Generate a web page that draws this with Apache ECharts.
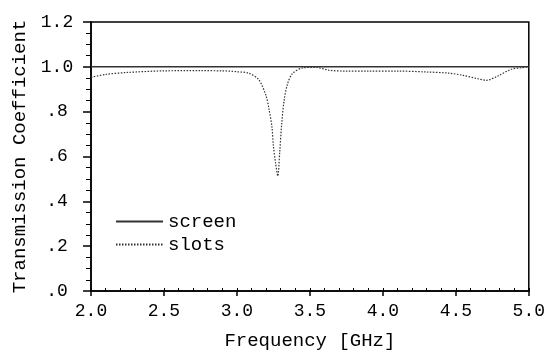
<!DOCTYPE html>
<html>
<head>
<meta charset="utf-8">
<script src="https://cdn.jsdelivr.net/npm/echarts@6/dist/echarts.min.js"></script>
<style>
  html, body { margin: 0; padding: 0; background: #fff; }
  #chart { width: 548px; height: 355px; }
</style>
</head>
<body>
<div id="chart"></div>
<script>
// 数据
var freq = [2.0, 2.1, 2.25, 2.5, 2.75, 2.9, 2.95, 3.0, 3.08, 3.15, 3.2, 3.22, 3.24, 3.25, 3.265, 3.28,
            3.293, 3.307, 3.323, 3.345, 3.38, 3.45, 3.54, 3.63, 3.74, 3.9, 4.1, 4.3, 4.45, 4.55,
            4.65, 4.71, 4.79, 4.88, 4.95, 5.0];
var slots = [0.953, 0.966, 0.975, 0.982, 0.983, 0.982, 0.981, 0.978, 0.972, 0.942, 0.87, 0.81, 0.732, 0.646, 0.57, 0.513,
             0.617, 0.747, 0.848, 0.92, 0.97, 0.995, 0.998, 0.985, 0.981, 0.981, 0.981, 0.977, 0.972, 0.962,
             0.947, 0.940, 0.960, 0.989, 0.996, 1.0];
var screenX = [2.0, 5.0];
var screen = [1.0, 1.0];
var yTickLabels = ['.0', '.2', '.4', '.6', '.8', '1.0', '1.2'];

var font = '"Liberation Mono", "Courier New", monospace';

var chart = echarts.init(document.getElementById('chart'));

var option = {
    animation: false,
    backgroundColor: '#fff',
    grid: {
        left: 91, right: 17, top: 22, bottom: 56,
        show: true, borderColor: '#000', borderWidth: 1.5
    },
    legend: {
        orient: 'vertical',
        left: 110, top: 207,
        itemWidth: 47, itemHeight: 12, itemGap: 4,
        itemStyle: { opacity: 0 },
        textStyle: { fontFamily: font, fontSize: 19, color: '#000' },
        data: ['screen', 'slots']
    },
    xAxis: [{
        type: 'value', min: 2, max: 5, interval: 0.5,
        name: 'Frequency [GHz]', nameLocation: 'middle', nameGap: 40,
        nameTextStyle: { fontFamily: font, fontSize: 19, color: '#000' },
        axisLine: { lineStyle: { color: '#000', width: 1.5 } },
        axisTick: { length: 5, lineStyle: { color: '#000', width: 1.5 } },
        axisLabel: { fontFamily: font, fontSize: 18, color: '#000', margin: 11,
            formatter: function (v) { return v.toFixed(1); } },
        splitLine: { show: false }
    }, {
        type: 'value', min: 2, max: 5, interval: 0.1, position: 'bottom',
        axisLine: { show: false },
        axisTick: { inside: true, length: 3, lineStyle: { color: '#000', width: 1 } },
        axisLabel: { show: false },
        splitLine: { show: false }
    }],
    yAxis: {
        type: 'value', min: 0, max: 1.2, interval: 0.2,
        name: 'Transmission Coefficient', nameLocation: 'middle', nameGap: 62,
        nameTextStyle: { fontFamily: font, fontSize: 19, color: '#000' },
        axisLine: { show: true, lineStyle: { color: '#000', width: 1.5 } },
        axisTick: { show: true, length: 8, lineStyle: { color: '#000', width: 1.5 } },
        minorTick: { show: true, splitNumber: 4, length: 5, lineStyle: { color: '#000', width: 1 } },
        axisLabel: { fontFamily: font, fontSize: 18, color: '#000', margin: 34, align: 'center',
            formatter: function (v) { return yTickLabels[Math.round(v / 0.2)]; } },
        splitLine: { show: false }
    },
    series: [{
        name: 'screen', type: 'line', symbol: 'none',
        data: screenX.map(function (x, i) { return [x, screen[i]]; }),
        lineStyle: { color: '#333', width: 1.5 },
        itemStyle: { color: '#333' }
    }, {
        name: 'slots', type: 'line', symbol: 'none', smooth: 0.3,
        data: freq.map(function (x, i) { return [x, slots[i]]; }),
        lineStyle: { color: '#333', width: 1.2, type: [1.5, 1.5] },
        itemStyle: { color: '#333' }
    }]
};

option && chart.setOption(option);
</script>
</body>
</html>
